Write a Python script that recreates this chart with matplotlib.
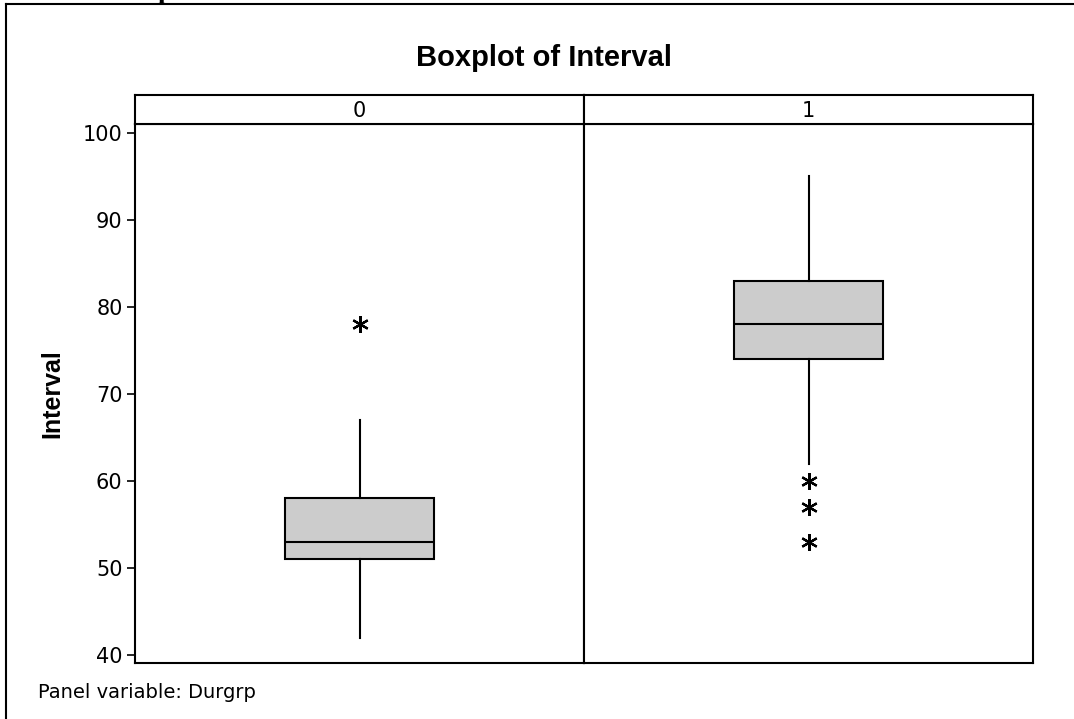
import matplotlib.pyplot as plt
from matplotlib.lines import Line2D

# Boxplot summary per panel (Durgrp = 0, 1)
panels = ['0', '1']
whislo = [42, 62]
q1 = [51, 74]
med = [53, 78]
q3 = [58, 83]
whishi = [67, 95]
fliers = [[78], [60, 57, 53]]
yticks = [40, 50, 60, 70, 80, 90, 100]

W, H = 1074, 719
fig = plt.figure(figsize=(W / 100, H / 100), dpi=100)
plt.rcParams['font.family'] = ['DejaVu Sans']

def fx(px):
    return px / W

def fy(py):
    return 1 - py / H

# outer frame (cut by the picture edges)
fig.add_artist(Line2D([fx(6), fx(6)], [fy(4), fy(719)], color='black', lw=1.5))
fig.add_artist(Line2D([fx(6), fx(1074)], [fy(4), fy(4)], color='black', lw=1.5))
fig.text(fx(165), fy(-2), 'p', fontsize=20, fontweight='bold', family='Liberation Serif',
         ha='center', va='baseline')

left, right, top, bottom = 135, 1033, 124, 663
pw = (right - left) / 2
for i, name in enumerate(panels):
    x0 = left + i * pw
    ax = fig.add_axes([fx(x0), fy(bottom), pw / W, (bottom - top) / H])
    stats = [dict(whislo=whislo[i], q1=q1[i], med=med[i], q3=q3[i],
                  whishi=whishi[i], fliers=fliers[i])]
    ax.bxp(stats, positions=[1], widths=0.33, patch_artist=True, showcaps=False,
           boxprops=dict(facecolor='#cccccc', edgecolor='black', lw=1.5),
           medianprops=dict(color='black', lw=1.5),
           whiskerprops=dict(color='black', lw=1.5),
           flierprops=dict(marker=(6, 2, 0), markersize=12, markeredgecolor='black',
                           markeredgewidth=1.6, linestyle='none'))
    ax.set_xlim(0.5, 1.5)
    ax.set_ylim(39.08, 101.03)
    ax.set_xticks([])
    for s in ax.spines.values():
        s.set_linewidth(1.5)
    if i == 0:
        ax.set_yticks(yticks)
        ax.tick_params(axis='y', direction='out', length=6, width=1.2, labelsize=15, pad=3)
        ax.set_ylabel('Interval', fontsize=18, fontweight='bold', family='Liberation Sans',
                      labelpad=13)
    else:
        ax.set_yticks([])

    # strip header
    sax = fig.add_axes([fx(x0), fy(top), pw / W, (top - 95) / H])
    sax.set_xticks([])
    sax.set_yticks([])
    for s in sax.spines.values():
        s.set_linewidth(1.5)
    sax.text(0.5, 0.45, name, ha='center', va='center', fontsize=15, transform=sax.transAxes)

fig.text(fx(544), fy(58), 'Boxplot of Interval', ha='center', va='center',
         fontsize=21, fontweight='bold', family='Liberation Sans')
fig.text(fx(38), fy(692), 'Panel variable: Durgrp', ha='left', va='center', fontsize=14)

fig.savefig('out.png', dpi=100)
